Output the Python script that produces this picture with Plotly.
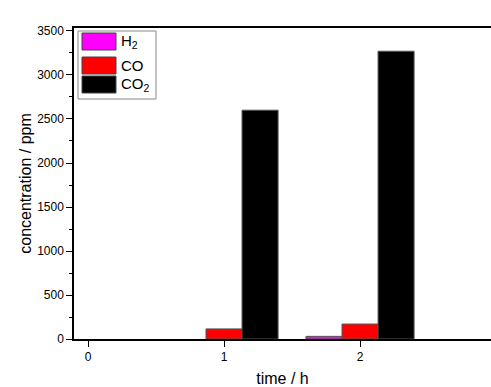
import plotly.graph_objects as go

time_h = [0, 1, 2]
h2 = [0, 0, 30]
co = [0, 115, 170]
co2 = [0, 2600, 3270]
series_names = ["H<sub>2</sub>", "CO", "CO<sub>2</sub>"]
series_colors = ["#FF00FF", "#FF0000", "#000000"]
series_values = [h2, co, co2]

fig = go.Figure()
for name, col, vals in zip(series_names, series_colors, series_values):
    fig.add_trace(go.Bar(x=time_h, y=vals, name=name,
                         marker=dict(color=col, line=dict(color="#555555", width=[1 if v > 0 else 0 for v in vals])),
                         showlegend=False))

font = "Liberation Sans, Arial, sans-serif"
W, H = 491, 387
L, R, T, B = 74, 0, 28, 48
fig.update_layout(
    width=W, height=H,
    margin=dict(l=L, r=R, t=T, b=B),
    paper_bgcolor="white", plot_bgcolor="white",
    barmode="group", bargap=0.205, bargroupgap=0,
    font=dict(family=font, size=12, color="black"),
    xaxis=dict(range=[-0.103, 2.963], tickvals=[0, 1, 2], ticktext=["0", "1", "2"],
               ticks="outside", ticklen=6, tickwidth=1, tickcolor="black",
               showline=True, linecolor="black", linewidth=1.5, mirror=True,
               showgrid=False, zeroline=False, automargin=False,
               title=dict(text="time / h", font=dict(size=16), standoff=12)),
    yaxis=dict(range=[0, 3534], tickvals=[0, 500, 1000, 1500, 2000, 2500, 3000, 3500],
               ticks="outside", ticklen=6, tickwidth=1, tickcolor="black",
               minor=dict(tickvals=[250, 750, 1250, 1750, 2250, 2750, 3250], ticks="outside", ticklen=3, tickcolor="black"),
               showline=True, linecolor="black", linewidth=1.5,
               showgrid=False, zeroline=False, automargin=False,
               title=dict(text="concentration / ppm", font=dict(size=16), standoff=2)),
)

# legend drawn in paper coordinates
pw, ph = W - L - R, H - T - B
def px(x):
    return (x - L) / pw
def py(y):
    return 1 - (y - T) / ph

fig.add_shape(type="rect", xref="paper", yref="paper", x0=px(78), x1=px(156), y0=py(99), y1=py(31),
              line=dict(color="#888888", width=1), fillcolor="white")
rows = [(33, 50), (57, 74), (76, 93)]
for (t, b), name, col in zip(rows, series_names, series_colors):
    fig.add_shape(type="rect", xref="paper", yref="paper", x0=px(82), x1=px(116), y0=py(b), y1=py(t),
                  line=dict(color="#444444", width=1), fillcolor=col)
    fig.add_annotation(xref="paper", yref="paper", x=px(119), y=py((t + b) / 2), text=name,
                       showarrow=False, xanchor="left", yanchor="middle", font=dict(size=15, family=font))

fig.write_html("out.html", config={"displayModeBar": False},
               post_script="document.body.style.margin='0';document.body.style.overflow='hidden';document.documentElement.style.overflow='hidden';")
